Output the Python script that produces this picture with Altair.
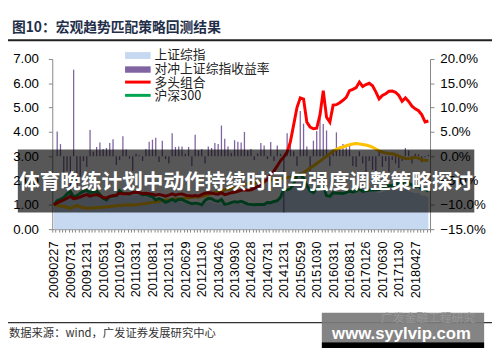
import calendar
import json
import altair as alt
import pandas as pd

# ---------------- data ----------------
tick_labels = ["20090227", "20090731", "20091231", "20100531", "20101029", "20110331",
               "20110831", "20120131", "20120629", "20121130", "20130426", "20130930",
               "20140228", "20140731", "20141231", "20150529", "20151030", "20160331",
               "20160831", "20170126", "20170630", "20171130", "20180427"]

# 上证综指 (normalised)
sse = [1.00, 1.14, 1.19, 1.26, 1.42, 1.64, 1.28, 1.33, 1.44, 1.53, 1.57,
       1.44, 1.47, 1.49, 1.38, 1.24, 1.15, 1.27, 1.27, 1.28, 1.43, 1.35, 1.35,
       1.34, 1.40, 1.41, 1.40, 1.32, 1.33, 1.30, 1.23, 1.13, 1.19, 1.12, 1.06,
       1.10, 1.17, 1.09, 1.15, 1.14, 1.07, 1.01, 0.98, 1.00, 0.99, 0.95, 1.09,
       1.15, 1.14, 1.07, 1.05, 1.11, 0.95, 0.96, 1.01, 1.04, 1.03, 1.07, 1.02,
       0.98, 0.99, 0.98, 0.97, 0.98, 0.98, 1.06, 1.06, 1.14, 1.16, 1.29, 1.55,
       1.54, 1.59, 1.80, 2.13, 2.22, 2.05, 1.76, 1.54, 1.47, 1.62, 1.65, 1.70,
       1.32, 1.29, 1.44, 1.41, 1.40, 1.41, 1.43, 1.48, 1.44, 1.49, 1.56, 1.49,
       1.52, 1.56, 1.55, 1.52, 1.50, 1.53, 1.57, 1.61, 1.61, 1.63, 1.59, 1.59,
       1.67, 1.57, 1.52, 1.48, 1.49, 1.37, 1.38, 1.31]

# 沪深300 (normalised)
hs300 = [1.00, 1.17, 1.23, 1.30, 1.45, 1.55, 1.33, 1.38, 1.48, 1.56, 1.60,
         1.50, 1.53, 1.57, 1.43, 1.27, 1.20, 1.34, 1.36, 1.37, 1.58, 1.47, 1.46,
         1.44, 1.51, 1.51, 1.50, 1.41, 1.42, 1.38, 1.33, 1.20, 1.26, 1.20, 1.10,
         1.15, 1.23, 1.15, 1.23, 1.22, 1.15, 1.09, 1.05, 1.07, 1.05, 1.00, 1.18,
         1.26, 1.25, 1.17, 1.14, 1.22, 1.02, 1.04, 1.09, 1.13, 1.11, 1.15, 1.09,
         1.03, 1.02, 1.00, 1.01, 1.01, 1.01, 1.10, 1.09, 1.14, 1.17, 1.31, 1.65,
         1.61, 1.67, 1.86, 2.22, 2.26, 2.09, 1.79, 1.57, 1.50, 1.65, 1.67, 1.74,
         1.38, 1.35, 1.50, 1.48, 1.48, 1.47, 1.50, 1.56, 1.52, 1.56, 1.65, 1.55,
         1.58, 1.61, 1.61, 1.61, 1.63, 1.71, 1.76, 1.79, 1.79, 1.87, 1.87, 1.88,
         2.00, 1.88, 1.82, 1.76, 1.78, 1.64, 1.64, 1.56]

# 多头组合
long_port = [1.00, 1.08, 1.14, 1.20, 1.27, 1.35, 1.25, 1.28, 1.32, 1.38, 1.42,
             1.36, 1.40, 1.42, 1.37, 1.30, 1.28, 1.35, 1.38, 1.40, 1.48, 1.45, 1.46,
             1.46, 1.50, 1.52, 1.50, 1.47, 1.48, 1.46, 1.44, 1.40, 1.43, 1.40, 1.36,
             1.40, 1.45, 1.40, 1.44, 1.45, 1.40, 1.37, 1.36, 1.38, 1.36, 1.42, 1.48,
             1.50, 1.49, 1.45, 1.44, 1.50, 1.42, 1.45, 1.50, 1.52, 1.56, 1.60, 1.62,
             1.60, 1.62, 1.68, 1.75, 1.82, 1.95, 2.05, 2.23, 2.40, 2.60, 2.82, 2.97,
             3.17, 3.60, 4.30, 5.00, 5.40, 5.35, 4.40, 4.20, 4.13, 4.15, 4.70, 5.70,
             4.60, 4.40, 5.10, 5.12, 5.20, 5.30, 5.42, 5.70, 5.75, 5.82, 6.05, 5.87,
             5.95, 6.00, 5.90, 5.65, 5.36, 5.50, 5.57, 5.67, 5.68, 5.63, 5.50, 5.26,
             5.40, 5.25, 5.06, 4.95, 4.87, 4.70, 4.41, 4.45]

# 对冲净值 (gold line)
hedge_net = [1.00, 0.97, 0.95, 0.93, 0.90, 0.85, 0.92, 0.98, 0.92, 0.88, 0.86,
             0.87, 0.88, 0.88, 0.90, 0.90, 0.92, 0.93, 0.94, 0.96, 0.97, 0.98, 0.99,
             1.00, 0.99, 1.00, 1.02, 1.04, 1.06, 1.08, 1.10, 1.12, 1.15, 1.18, 1.20,
             1.21, 1.23, 1.25, 1.24, 1.26, 1.28, 1.29, 1.31, 1.32, 1.32, 1.34, 1.38,
             1.42, 1.46, 1.50, 1.55, 1.58, 1.62, 1.64, 1.66, 1.70, 1.74, 1.80, 1.84,
             1.86, 1.89, 1.90, 1.92, 1.95, 1.98, 2.00, 2.02, 2.05, 2.07, 2.08, 2.09,
             2.12, 2.15, 2.18, 2.22, 2.26, 2.32, 2.42, 2.52, 2.60, 2.70, 2.80, 2.90,
             3.00, 3.10, 3.20, 3.28, 3.34, 3.38, 3.43, 3.47, 3.50, 3.52, 3.50, 3.48,
             3.46, 3.42, 3.37, 3.30, 3.22, 3.17, 3.13, 3.11, 3.10, 3.06, 3.00, 2.95,
             2.90, 2.90, 2.93, 2.95, 2.92, 2.85, 2.83, 2.82]

# 对冲上证综指收益率 (%)
hedge_ret = [0.0, 5.1, 2.5, -4.0, -3.0, -8.0, 17.8, -6.0, -4.2, -1.0, -2.2,
             5.4, 0.9, 1.9, 2.8, 1.5, 1.7, 2.7, 3.5, -1.8, -0.8, 4.1, 1.4,
             -0.5, -3.1, 0.5, 0.2, -1.0, 1.5, 3.0, 3.4, 3.8, -1.2, 3.2, -0.6,
             -1.5, 4.7, 1.9, 2.0, 2.0, 0.5, 1.9, -2.0, 4.4, 1.2, 1.5, -1.5,
             2.0, 1.7, 2.7, 2.5, 6.3, 3.6, 2.0, 0.7, 3.3, 3.0, 2.8, 5.0,
             1.2, 1.5, -0.8, 0.6, 2.7, 2.2, -0.6, 2.9, -1.0, 2.2, 0.5, -11.6,
             4.7, 2.5, 1.0, -2.0, 9.3, 6.7, 2.0, -3.0, 3.2, 5.2, 7.9, 6.6,
             5.3, -2.0, 1.5, 4.9, 2.0, 2.5, 1.8, 2.3, -2.0, -2.2, 1.0, -1.5,
             -4.0, -1.0, -2.8, -4.9, 0.9, -2.2, -1.0, -3.2, -0.8, -1.5, -2.4, -1.0,
             1.7, 1.2, -1.5, 0.5, 0.4, -1.2, -0.2, 0.3]

legend_names = ["上证综指", "对冲上证综指收益率", "多头组合", "沪深300"]
title_text = "图10：宏观趋势匹配策略回测结果"
source_text = "数据来源：wind，广发证券发展研究中心"
banner_text = "体育晚练计划中动作持续时间与强度调整策略探讨"
wm_text = "www.syylvip.com"
wm_faint = "广发金融工程研究"

# month categories (labelled months use the reference's dates)
tick_by_month = {t[:6]: t for t in tick_labels}
categories = []
yy, mm = 2009, 2
for _ in range(len(sse)):
    key = f"{yy}{mm:02d}"
    categories.append(tick_by_month.get(key, f"{key}{calendar.monthrange(yy, mm)[1]:02d}"))
    mm += 1
    if mm > 12:
        mm, yy = 1, yy + 1

df = pd.DataFrame({"date": categories, "sse": sse, "hs300": hs300, "long": long_port,
                   "net": hedge_net, "ret": hedge_ret})

# ---------------- style ----------------
LAT = "Liberation Sans"
CJK = "Noto Sans CJK SC"
AX = "#868686"
C_SSE = "#C6D9F1"
C_BAR = "#8064A2"
C_RED = "#FF0000"
C_GREEN = "#00A550"
C_GOLD = "#FFC000"

label_expr = "indexof(" + json.dumps(tick_labels) + ", datum.value) >= 0 ? datum.value : ''"

x_enc = alt.X("date:O", sort=None, title=None,
              scale=alt.Scale(paddingInner=0, paddingOuter=0),
              axis=alt.Axis(labelExpr=label_expr, labelAngle=270, labelFont=LAT,
                            labelFontSize=13, labelColor="#000", labelPadding=9,
                            tickSize=3, tickColor=AX, domainColor=AX, labelOverlap=False,
                            tickBand="extent", grid=False))

left_scale = alt.Scale(domain=[0, 7], nice=False, zero=False)
right_scale = alt.Scale(domain=[-15, 20], nice=False, zero=False)

left_axis = alt.Axis(values=[0, 1, 2, 3, 4, 5, 6, 7], format=".2f", title=None,
                     labelFont=LAT, labelFontSize=13.5, labelColor="#000",
                     tickSize=4, labelPadding=10, tickColor=AX, domainColor=AX, grid=False)
right_axis = alt.Axis(orient="right", values=[-15, -10, -5, 0, 5, 10, 15, 20], title=None,
                      labelExpr="format(datum.value, '.1f') + '%'",
                      labelFont=LAT, labelFontSize=13.5, labelColor="#000",
                      tickSize=4, labelPadding=6, tickColor=AX, domainColor=AX, grid=False)

base = alt.Chart(df).encode(x=x_enc)

area = base.mark_area(color=C_SSE).encode(y=alt.Y("sse:Q", scale=left_scale, axis=left_axis))
bars = base.mark_bar(color=C_BAR, size=1.3).encode(
    y=alt.Y("ret:Q", scale=right_scale, axis=right_axis))
gold = base.mark_line(color=C_GOLD, strokeWidth=3).encode(
    y=alt.Y("net:Q", scale=left_scale, axis=None))
green = base.mark_line(color=C_GREEN, strokeWidth=3).encode(
    y=alt.Y("hs300:Q", scale=left_scale, axis=None))
red = base.mark_line(color=C_RED, strokeWidth=3).encode(
    y=alt.Y("long:Q", scale=left_scale, axis=None))

dummy = pd.DataFrame({"k": [0]})


def txt(s, x, y, size, color, font=CJK, weight="normal", align="left"):
    return alt.Chart(dummy).mark_text(align=align, baseline="middle", font=font,
                                      fontSize=size, fontWeight=weight, color=color).encode(
        x=alt.value(x), y=alt.value(y), text=alt.value(s))


def box(x, x2, y, y2, color, opacity=1.0):
    return alt.Chart(dummy).mark_rect(color=color, opacity=opacity).encode(
        x=alt.value(x), x2=alt.value(x2), y=alt.value(y), y2=alt.value(y2))


def hline(x, x2, y, color, w):
    return alt.Chart(dummy).mark_rule(color=color, strokeWidth=w).encode(
        x=alt.value(x), x2=alt.value(x2), y=alt.value(y))


legend_layers = [
    box(74, 100, -7, 0, C_SSE),
    box(74, 100, 7.5, 14, C_BAR),
    hline(74, 100, 23.5, C_RED, 3),
    hline(74, 100, 37, C_GREEN, 3),
    txt(legend_names[0], 104, -4, 13, "#222"),
    txt(legend_names[1], 104, 10.5, 13, "#222"),
    txt(legend_names[2], 104, 24, 13, "#222"),
    txt(legend_names[3], 104, 37.5, 13, "#222"),
]

deco_layers = [
    txt(title_text, -41, -31, 14, "#1F2F4A", weight="bold"),
    hline(-45, 447, -19, "#222", 2),
    hline(-45, 447, 268, "#333", 1.2),
    txt(source_text, -44, 280, 11.5, "#333"),
    # banner overlay
    box(-35, 429, 92, 156, "#000", 0.66),
    txt(banner_text, 197, 126, 21, "#fff", weight="bold", align="center"),
    # watermark
    box(274, 439, 258, 288, "#7a7a7a", 0.92),
    box(274, 439, 288, 296, "#000"),
    txt(wm_faint, 334, 263, 12, "#969696"),
    txt(wm_text, 355, 280, 17, "#fff", font=LAT, weight="bold", align="center"),
]

chart = alt.layer(area, bars, gold, green, red, *legend_layers, *deco_layers).resolve_scale(
    y="independent"
).properties(
    width=384, height=173,
    padding={"left": 45, "top": 49, "right": 63, "bottom": 118},
    autosize=alt.AutoSizeParams(type="none"),
    background="white",
).configure_view(stroke=None)

chart.save("out.html", embed_options={"renderer": "svg", "actions": False})
